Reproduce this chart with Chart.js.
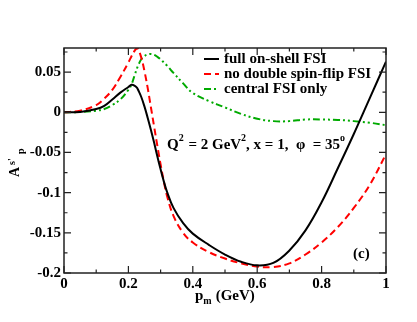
<!DOCTYPE html>
<html>
<head>
<meta charset="utf-8">
<script src="https://cdn.jsdelivr.net/npm/chart.js@4.4.1/dist/chart.umd.min.js"></script>
<style>
html,body{margin:0;padding:0;background:#fff;}
#wrap{width:417px;height:322px;position:relative;}
</style>
</head>
<body>
<div id="wrap"><canvas id="c" width="417" height="322"></canvas></div>
<script>
// ---- data ----
const pm      = [0, 0.05, 0.1, 0.125, 0.15, 0.175, 0.2, 0.21, 0.22, 0.227, 0.23, 0.24, 0.25, 0.26, 0.27, 0.28, 0.29, 0.3, 0.31, 0.32, 0.34, 0.37, 0.4, 0.45, 0.5, 0.55, 0.6, 0.65, 0.7, 0.75, 0.8, 0.85, 0.9, 0.95, 1.0];
const fullFSI = [0, 0.0005, 0.004, 0.008, 0.016, 0.0245, 0.0315, 0.0343, 0.033, 0.0305, 0.028, 0.019, 0.007, -0.007, -0.022, -0.038, -0.055, -0.071, -0.086, -0.099, -0.119, -0.138, -0.151, -0.165, -0.177, -0.186, -0.1905, -0.1875, -0.172, -0.147, -0.112, -0.070, -0.027, 0.018, 0.063];
const noDoubleFSI = [0, 0.002, 0.009, 0.017, 0.028, 0.044, 0.062, 0.070, 0.077, 0.080, 0.079, 0.068, 0.051, 0.030, 0.006, -0.018, -0.042, -0.065, -0.086, -0.104, -0.129, -0.150, -0.162, -0.174, -0.182, -0.188, -0.192, -0.1925, -0.188, -0.177, -0.162, -0.143, -0.119, -0.09, -0.052];
const centralFSI  = [0, 0.0003, 0.002, 0.004, 0.009, 0.016, 0.028, 0.035, 0.047, 0.055, 0.058, 0.066, 0.070, 0.072, 0.0725, 0.0715, 0.069, 0.066, 0.062, 0.058, 0.049, 0.036, 0.024, 0.014, 0.006, -0.002, -0.008, -0.011, -0.011, -0.009, -0.009, -0.0095, -0.011, -0.013, -0.016];
const seriesNames = ['full on-shell FSI', 'no double spin-flip FSI', 'central FSI only'];
const xTickVals = [0, 0.2, 0.4, 0.6, 0.8, 1];
const yTickVals = [-0.2, -0.15, -0.1, -0.05, 0, 0.05];
const yTickLabels = ['-0.2', '-0.15', '-0.1', '-0.05', '0', '0.05'];

const FONT = '"Liberation Serif", "Times New Roman", serif';
const toXY = arr => pm.map((x, i) => ({x: x, y: arr[i]}));

const styles = [
  {color: '#000000', dash: [], width: 2},
  {color: '#ff0000', dash: [7, 4], width: 2},
  {color: '#00aa00', dash: [7, 3, 2, 3, 2, 3], width: 2}
];
const allSeries = [fullFSI, noDoubleFSI, centralFSI];

function richText(ctx, parts, x, y) {
  let cx = x;
  for (const p of parts) {
    ctx.font = 'bold ' + p.size + 'px ' + FONT;
    ctx.fillText(p.t, cx, y + (p.dy || 0));
    cx += ctx.measureText(p.t).width + (p.gap || 0);
  }
}

const decor = {
  id: 'decor',
  afterDatasetsDraw(chart) {
    const ctx = chart.ctx, a = chart.chartArea;
    const xs = chart.scales.x, ys = chart.scales.y;
    ctx.save();
    ctx.strokeStyle = '#222';
    ctx.lineWidth = 1.5;
    ctx.strokeRect(a.left, a.top, a.right - a.left, a.bottom - a.top);
    ctx.lineWidth = 1.2;
    ctx.beginPath();
    for (let i = 0; i < xTickVals.length; i++) {
      const px = xs.getPixelForValue(xTickVals[i]);
      ctx.moveTo(px, a.bottom); ctx.lineTo(px, a.bottom - 7);
      ctx.moveTo(px, a.top); ctx.lineTo(px, a.top + 7);
      if (i < xTickVals.length - 1) {
        const m = xs.getPixelForValue((xTickVals[i] + xTickVals[i + 1]) / 2);
        ctx.moveTo(m, a.bottom); ctx.lineTo(m, a.bottom - 3.5);
        ctx.moveTo(m, a.top); ctx.lineTo(m, a.top + 3.5);
      }
    }
    for (let i = 0; i < yTickVals.length; i++) {
      const py = ys.getPixelForValue(yTickVals[i]);
      ctx.moveTo(a.left, py); ctx.lineTo(a.left + 7, py);
      ctx.moveTo(a.right, py); ctx.lineTo(a.right - 7, py);
      const mv = yTickVals[i] + 0.025;
      if (mv < ys.max) {
        const m = ys.getPixelForValue(mv);
        ctx.moveTo(a.left, m); ctx.lineTo(a.left + 3.5, m);
        ctx.moveTo(a.right, m); ctx.lineTo(a.right - 3.5, m);
      }
    }
    ctx.stroke();

    // legend
    const rows = [59, 74, 89];
    ctx.textBaseline = 'middle';
    ctx.fillStyle = '#000';
    for (let i = 0; i < 3; i++) {
      ctx.beginPath();
      ctx.strokeStyle = styles[i].color;
      ctx.lineWidth = styles[i].width;
      ctx.setLineDash(styles[i].dash);
      ctx.moveTo(204, rows[i]); ctx.lineTo(219, rows[i]);
      ctx.stroke();
      ctx.setLineDash([]);
      ctx.font = 'bold 15px ' + FONT;
      ctx.fillText(seriesNames[i], 224, rows[i] + 0.5);
    }

    // annotation
    ctx.textBaseline = 'alphabetic';
    richText(ctx, [
      {t: 'Q', size: 15},
      {t: '2', size: 10, dy: -8, gap: 1},
      {t: ' = 2 GeV', size: 15},
      {t: '2', size: 10, dy: -8},
      {t: ', x = 1,  \u03c6  = 35', size: 15},
      {t: 'o', size: 10, dy: -8}
    ], 167, 149);
    ctx.font = 'bold 15px ' + FONT;
    ctx.fillText('(c)', 353, 258);

    // x title
    richText(ctx, [
      {t: 'p', size: 15},
      {t: 'm', size: 10, dy: 4, gap: 4},
      {t: '(GeV)', size: 15}
    ], 195, 300);

    // y title (rotated)
    ctx.save();
    ctx.translate(19, 177);
    ctx.rotate(-Math.PI / 2);
    ctx.font = 'bold 14px ' + FONT;
    ctx.fillText('A', 0, 0);
    ctx.font = 'bold 10px ' + FONT;
    ctx.fillText("s'", 12, -4);
    ctx.fillText('p', 23, 5);
    ctx.restore();
    ctx.restore();
  }
};

new Chart(document.getElementById('c'), {
  type: 'line',
  data: {
    datasets: allSeries.map((arr, i) => ({
      label: seriesNames[i],
      data: toXY(arr),
      borderColor: styles[i].color,
      borderDash: styles[i].dash,
      borderWidth: styles[i].width,
      pointRadius: 0,
      fill: false,
      tension: 0.4
    }))
  },
  options: {
    responsive: false,
    animation: false,
    layout: {padding: {left: 0, right: 31, top: 48, bottom: 0}},
    plugins: {legend: {display: false}, tooltip: {enabled: false}},
    scales: {
      x: {
        type: 'linear', min: 0, max: 1,
        grid: {display: false, drawTicks: false},
        border: {display: false},
        afterBuildTicks: s => { s.ticks = xTickVals.map(v => ({value: v})); },
        afterFit: s => { s.height = 49; },
        ticks: {
          padding: 2,
          color: '#000',
          font: {family: FONT, size: 15, weight: 'bold'},
          maxRotation: 0,
          callback: v => String(v)
        }
      },
      y: {
        type: 'linear', min: -0.2, max: 0.08,
        grid: {display: false, drawTicks: false},
        border: {display: false},
        afterBuildTicks: s => { s.ticks = yTickVals.map(v => ({value: v})); },
        afterFit: s => { s.width = 64; },
        ticks: {
          padding: 3,
          color: '#000',
          font: {family: FONT, size: 15, weight: 'bold'},
          callback: v => { const k = yTickVals.indexOf(v); return k >= 0 ? yTickLabels[k] : ''; }
        }
      }
    }
  },
  plugins: [decor]
});
</script>
</body>
</html>
